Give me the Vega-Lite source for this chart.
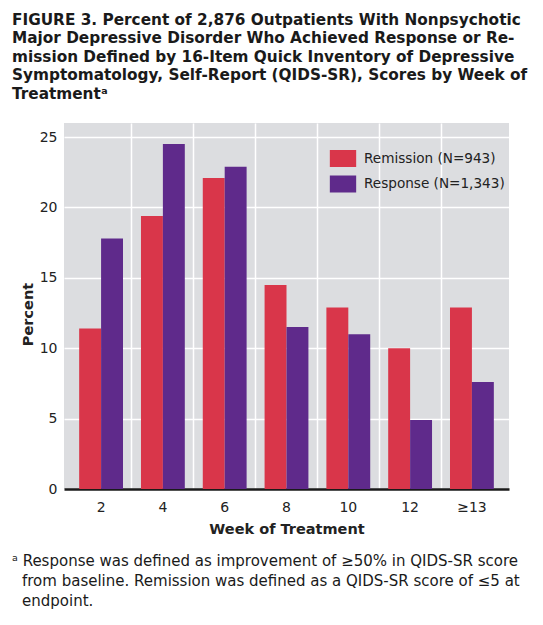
{
  "$schema": "https://vega.github.io/schema/vega-lite/v6.json",
  "background": "white",
  "padding": {"left": 12, "top": 12, "right": 10, "bottom": 10},
  "config": {
    "font": "DejaVu Sans",
    "view": {"stroke": null, "fill": "#dcdde0"},
    "axis": {"labelFont": "DejaVu Sans", "titleFont": "DejaVu Sans", "labelColor": "#222222", "titleColor": "#222222"}
  },
  "title": {
    "text": [
      "FIGURE 3. Percent of 2,876 Outpatients With Nonpsychotic",
      "Major Depressive Disorder Who Achieved Response or Re-",
      "mission Defined by 16-Item Quick Inventory of Depressive",
      "Symptomatology, Self-Report (QIDS-SR), Scores by Week of",
      "Treatmentᵃ"
    ],
    "anchor": "start",
    "frame": "group",
    "dx": -52,
    "font": "DejaVu Sans",
    "fontSize": 15.3,
    "fontWeight": "bold",
    "lineHeight": 18.5,
    "color": "#1a1a1a",
    "offset": 21
  },
  "vconcat": [
    {
      "width": 445,
      "height": 366,
      "title": {
        "text": [
          "ᵃ Response was defined as improvement of ≥50% in QIDS-SR score",
          "\u200b\u2002\u2006from baseline. Remission was defined as a QIDS-SR score of ≤5 at",
          "\u200b\u2002\u2006endpoint."
        ],
        "orient": "bottom",
        "anchor": "start",
        "frame": "group",
        "dx": -52,
        "font": "DejaVu Sans",
        "fontSize": 15,
        "fontWeight": "normal",
        "lineHeight": 20,
        "color": "#1a1a1a",
        "offset": 18
      },
      "data": {
        "values": [
          {"week": "2", "measure": "Remission (N=943)", "percent": 11.4},
          {"week": "2", "measure": "Response (N=1,343)", "percent": 17.8},
          {"week": "4", "measure": "Remission (N=943)", "percent": 19.4},
          {"week": "4", "measure": "Response (N=1,343)", "percent": 24.5},
          {"week": "6", "measure": "Remission (N=943)", "percent": 22.1},
          {"week": "6", "measure": "Response (N=1,343)", "percent": 22.9},
          {"week": "8", "measure": "Remission (N=943)", "percent": 14.5},
          {"week": "8", "measure": "Response (N=1,343)", "percent": 11.5},
          {"week": "10", "measure": "Remission (N=943)", "percent": 12.9},
          {"week": "10", "measure": "Response (N=1,343)", "percent": 11.0},
          {"week": "12", "measure": "Remission (N=943)", "percent": 10.0},
          {"week": "12", "measure": "Response (N=1,343)", "percent": 4.9},
          {"week": "≥13", "measure": "Remission (N=943)", "percent": 12.9},
          {"week": "≥13", "measure": "Response (N=1,343)", "percent": 7.6}
        ]
      },
      "encoding": {
        "xOffset": {
          "field": "measure",
          "type": "nominal",
          "scale": {"paddingInner": 0, "paddingOuter": 0.41}
        },
        "y": {
          "field": "percent",
          "type": "quantitative",
          "scale": {"domain": [0, 26], "nice": false},
          "axis": {
            "title": "Percent",
            "titleFontSize": 14.5,
            "titleFontWeight": "bold",
            "titlePadding": 4,
            "titleY": 191,
            "values": [0, 5, 10, 15, 20, 25],
            "labelFontSize": 14,
            "labelPadding": 7,
            "ticks": false,
            "domain": false,
            "grid": true,
            "gridColor": "white",
            "gridWidth": 1.5
          }
        },
        "color": {
          "field": "measure",
          "type": "nominal",
          "scale": {"domain": ["Remission (N=943)", "Response (N=1,343)"], "range": ["#d9364a", "#5f2a8b"]},
          "legend": {
            "title": null,
            "orient": "none",
            "legendX": 270.5,
            "legendY": 27,
            "symbolType": "M-1.55,-1H1.55V1H-1.55Z",
            "symbolSize": 289,
            "symbolStrokeWidth": 0,
            "labelFontSize": 13.6,
            "labelFont": "DejaVu Sans",
            "labelColor": "#222222",
            "rowPadding": 8.5,
            "labelOffset": 12.5
          }
        }
      },
      "layer": [
        {
          "mark": {"type": "bar", "opacity": 0},
          "encoding": {
            "x": {
              "field": "week",
              "type": "nominal",
              "sort": ["2", "4", "6", "8", "10", "12", "≥13"],
              "scale": {"paddingInner": 0, "paddingOuter": 0.1},
              "axis": {
                "orient": "top",
                "title": null,
                "values": ["4", "6", "8", "10", "12", "≥13"],
                "bandPosition": 0,
                "labels": false,
                "ticks": false,
                "domain": false,
                "grid": true,
                "gridColor": "white",
                "gridWidth": 1.5
              }
            }
          }
        },
        {
          "mark": {"type": "bar"},
          "encoding": {
            "x": {
              "field": "week",
              "type": "nominal",
              "sort": ["2", "4", "6", "8", "10", "12", "≥13"],
              "axis": {
                "orient": "bottom",
                "title": "Week of Treatment",
                "titleFontSize": 14.5,
                "titleFontWeight": "bold",
                "titlePadding": 8,
                "labelAngle": 0,
                "labelFontSize": 14,
                "labelPadding": 11,
                "ticks": false,
                "grid": false,
                "domain": true,
                "domainColor": "#1a1a1a",
                "domainWidth": 2.5
              }
            }
          }
        }
      ],
      "resolve": {"axis": {"x": "independent"}}
    }
  ]
}
